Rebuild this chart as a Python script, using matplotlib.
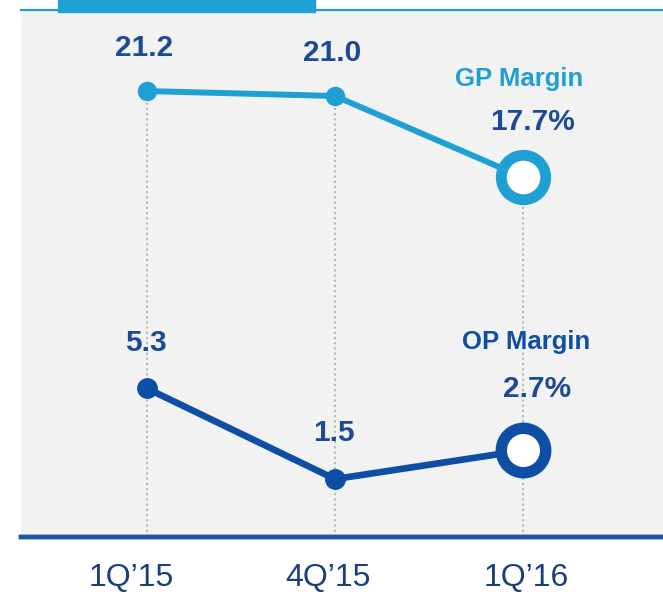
import matplotlib.pyplot as plt
from matplotlib.patches import Rectangle

# === Data ===
quarters = ["1Q\u201915", "4Q\u201915", "1Q\u201916"]
gp_margin = [21.2, 21.0, 17.7]
op_margin = [5.3, 1.5, 2.7]
gp_labels = ["21.2", "21.0", "17.7%"]
op_labels = ["5.3", "1.5", "2.7%"]

# === Style ===
LIGHT = "#1fa0d4"
DARK = "#0f4ea5"
NAVY = "#1c4a94"
TICK = "#1b3f7a"
PANEL = "#f2f2f2"
FONT = "Liberation Sans"

plt.rcParams["font.family"] = [FONT, "DejaVu Sans"]

W, H = 663, 596
fig = plt.figure(figsize=(W / 100, H / 100), dpi=100)
ax = fig.add_axes([21 / W, 1 - 537 / H, 642 / W, 527 / H])
ax.set_facecolor(PANEL)
ax2 = ax.twinx()

x = list(range(len(quarters)))
ax.set_xlim(-0.670, 2.745)
ax.set_ylim(3.10, 24.49)
ax2.set_ylim(-0.93, 21.17)

# dotted guides from the GP point down to the baseline
ax.vlines(x, 3.10, gp_margin, colors="#b5b5b5", linestyles=(0, (1, 1.5)),
          linewidth=1.5, zorder=1)

# GP margin
ax.plot(x, gp_margin, color=LIGHT, lw=4.3, zorder=3, solid_capstyle="round")
ax.plot(x[:-1], gp_margin[:-1], "o", color=LIGHT, ms=13, zorder=4)
ax.plot(x[-1:], gp_margin[-1:], "o", mfc="white", mec=LIGHT, ms=32, mew=7.8, zorder=5)

# OP margin
ax2.plot(x, op_margin, color=DARK, lw=4.8, zorder=3, solid_capstyle="round")
ax2.plot(x[:-1], op_margin[:-1], "o", color=DARK, ms=14, zorder=4)
ax2.plot(x[-1:], op_margin[-1:], "o", mfc="white", mec=DARK, ms=32, mew=8.2, zorder=5)

# value labels
for xi, v, lab in zip(x[:-1], gp_margin[:-1], gp_labels[:-1]):
    ax.annotate(lab, (xi, v), xytext=(-2, 31), textcoords="offset points",
                ha="center", va="center", fontsize=21.5, fontweight="bold", color=NAVY)
for xi, v, lab in zip(x[:-1], op_margin[:-1], op_labels[:-1]):
    ax2.annotate(lab, (xi, v), xytext=(-1, 33), textcoords="offset points",
                 ha="center", va="center", fontsize=21.5, fontweight="bold", color=NAVY)

ax.annotate("GP Margin", (x[-1], gp_margin[-1]), xytext=(-3, 71), textcoords="offset points",
            ha="center", va="center", fontsize=18.5, fontweight="bold", color=LIGHT)
ax.annotate(gp_labels[-1], (x[-1], gp_margin[-1]), xytext=(7, 40), textcoords="offset points",
            ha="center", va="center", fontsize=21.5, fontweight="bold", color=NAVY)
ax2.annotate("OP Margin", (x[-1], op_margin[-1]), xytext=(2, 78), textcoords="offset points",
             ha="center", va="center", fontsize=18.5, fontweight="bold", color=DARK)
ax2.annotate(op_labels[-1], (x[-1], op_margin[-1]), xytext=(10, 44), textcoords="offset points",
             ha="center", va="center", fontsize=21.5, fontweight="bold", color=NAVY)

# axes cosmetics: category labels sit slightly off the point columns
ax.set_xticks([-0.085, 0.963, 2.016])
ax.set_xticklabels(quarters, fontsize=23, color=TICK)
ax.tick_params(axis="x", length=0, pad=19)
ax.set_yticks([])
ax2.set_yticks([])
for a in (ax, ax2):
    a.spines["left"].set_visible(False)
    a.spines["right"].set_visible(False)
    a.spines["top"].set_color(LIGHT)
    a.spines["top"].set_linewidth(1.5)
    a.spines["bottom"].set_color("#1a55a8")
    a.spines["bottom"].set_linewidth(3.2)

# header tab at the top edge
fig.patches.append(Rectangle((58 / W, 1 - 12 / H), 257 / W, 12 / H,
                             transform=fig.transFigure, color=LIGHT, zorder=10))

fig.savefig("out.png", dpi=100)
